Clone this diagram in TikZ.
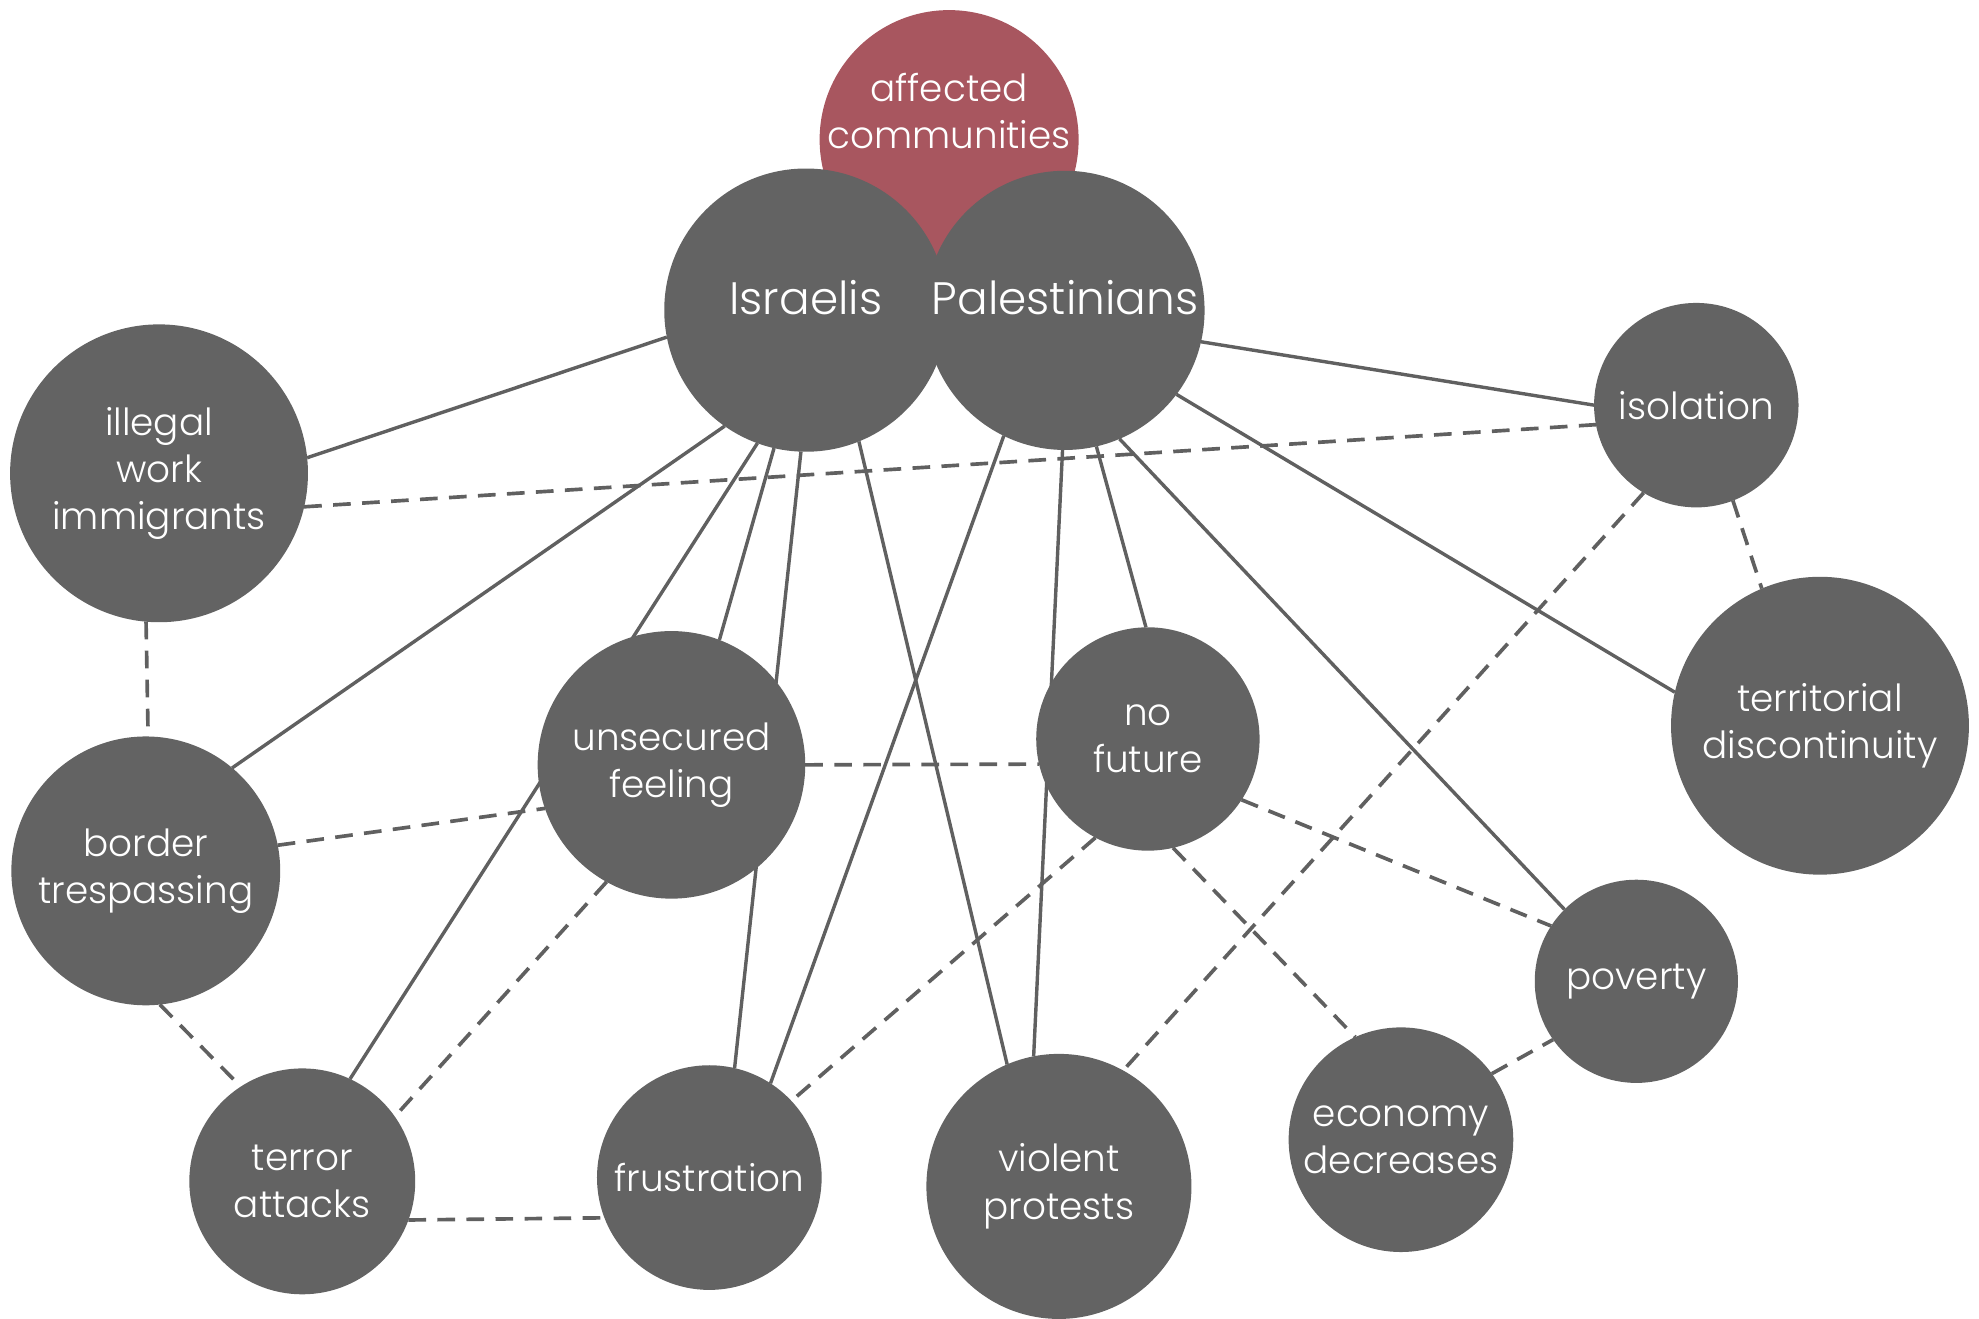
\documentclass[tikz,border=0pt]{standalone}
\usepackage{fontspec}
\setmainfont{Poppins Light}
\usetikzlibrary{backgrounds}
\definecolor{nodegray}{RGB}{99,99,99}
\definecolor{affred}{RGB}{168,86,95}
\definecolor{linegray}{RGB}{96,96,96}
\tikzset{
  bub/.style={circle, fill=nodegray, inner sep=0pt, outer sep=0pt, text=white, align=center,
    font=\fontsize{14.8}{18.75}\selectfont},
  lbl/.style={text=white, align=center, inner sep=0pt},
  bigfont/.style={font=\fontsize{18}{22}\selectfont},
  solidlink/.style={draw=linegray, line width=1.35pt},
  dashlink/.style={draw=linegray, line width=1.45pt, dash pattern=on 7pt off 4.5pt},
}
\begin{document}
\begin{tikzpicture}[x=0.5pt, y=-0.5pt]
\useasboundingbox (0,0) rectangle (1568,1045);
% nodes
\node[bub, fill=affred, minimum size=102.6pt,
      label={[lbl, font=\fontsize{14.8}{18.75}\selectfont, yshift=11.3pt]center:{affected\\communities}}]
      (aff) at (752,110.6) {};
\node[bub, minimum size=112.2pt,
      label={[lbl, bigfont, yshift=5pt]center:Israelis}] (isr) at (638.5,245.7) {};
\node[bub, minimum size=110.6pt,
      label={[lbl, bigfont, yshift=5pt]center:Palestinians}] (pal) at (843.8,245.9) {};
\node[bub, minimum size=118pt] (ill) at (126,375) {illegal\\work\\immigrants};
\node[bub, minimum size=81pt] (iso) at (1344,321) {isolation};
\node[bub, minimum size=118pt] (ter) at (1442,575) {territorial\\discontinuity};
\node[bub, minimum size=106pt] (uns) at (532,606) {unsecured\\feeling};
\node[bub, minimum size=88.5pt] (nof) at (909.5,585.5) {no\\future};
\node[bub, minimum size=106.5pt] (bor) at (115.5,690) {border\\trespassing};
\node[bub, minimum size=80.5pt] (pov) at (1296.5,777.5) {poverty};
\node[bub, minimum size=89pt] (eco) at (1110,903) {economy\\decreases};
\node[bub, minimum size=89.5pt] (tat) at (239.5,936) {terror\\attacks};
\node[bub, minimum size=89pt] (fru) at (562,933) {frustration};
\node[bub, minimum size=105pt] (vio) at (839,940) {violent\\protests};
% connectors
\begin{pgfonlayer}{background}
\draw[solidlink] (isr.191.4) -- (ill.6.3);
\draw[solidlink] (isr.235.1) -- (bor.50.9);
\draw[solidlink] (isr.250) -- (tat.65.5);
\draw[solidlink] (isr.257.5) -- (uns.69.4);
\draw[solidlink] (isr.268.7) -- (fru.77.4);
\draw[solidlink] (isr.292.6) -- (vio.113.8);
\draw[solidlink] (pal.244.7) -- (fru.57);
\draw[solidlink] (pal.269.1) -- (vio.101.6);
\draw[solidlink] (pal.283.2) -- (nof.91);
\draw[solidlink] (pal.293.5) -- (pov.135);
\draw[solidlink] (pal.323.6) -- (ter.167.7);
\draw[solidlink] (pal.347.3) -- (iso.180.7);
\draw[dashlink] (ill.347.5) -- (iso.191.9);
\draw[dashlink] (ill.265.6) -- (bor.89.2);
\draw[dashlink] (bor.11.7) -- (uns.199.3);
\draw[dashlink] (uns.0) -- (nof.193.2);
\draw[dashlink] (bor.276.7) -- (tat.123.1);
\draw[dashlink] (uns.241.6) -- (tat.35.6);
\draw[dashlink] (tat.340) -- (fru.201);
\draw[dashlink] (nof.242.5) -- (fru.43.6);
\draw[dashlink] (iso.239.3) -- (vio.61.2);
\draw[dashlink] (iso.291.3) -- (ter.113.5);
\draw[dashlink] (nof.327.3) -- (pov.147.4);
\draw[dashlink] (nof.283) -- (eco.114.1);
\draw[dashlink] (eco.36) -- (pov.215.6);
\end{pgfonlayer}
\end{tikzpicture}
\end{document}
